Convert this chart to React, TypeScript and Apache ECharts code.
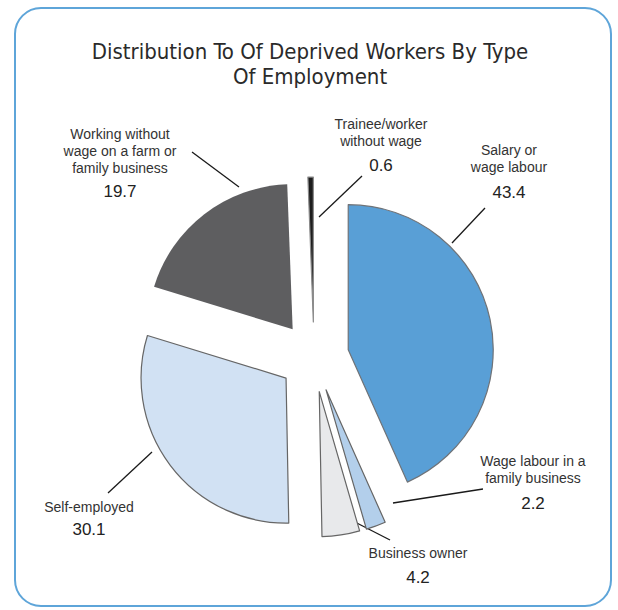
import React, { useEffect, useRef } from "react";
import * as echarts from "echarts";

// Employment categories, clockwise from 12 o'clock
const categories = [
  "Salary or\nwage labour",
  "Wage labour in a\nfamily business",
  "Business owner",
  "Self-employed",
  "Working without\nwage on a farm or\nfamily business",
  "Trainee/worker\nwithout wage",
];
const shares = [43.4, 2.2, 4.2, 30.1, 19.7, 0.6];
const sliceColors = ["#599fd6", "#b3cfeb", "#e8e9eb", "#d1e1f3", "#5e5e60", "#1d1d1d"];
const sliceBorders = ["#6f7378", "#666666", "#666666", "#666666", "#5e5e60", "#8a8a8a"];

// Label block placement: centre x, top of the name lines, centre of the value line
const labelSpots: [number, number, number][] = [
  [509, 141, 192],
  [533, 452, 503],
  [418, 544, 577],
  [89, 498, 529],
  [120, 125, 191],
  [381, 115, 165],
];
// Leader line end points for each label
const leaderLines: [number, number, number, number][] = [
  [485, 208, 452, 243],
  [483, 489, 393, 503],
  [390, 540, 349, 519],
  [108, 493, 152, 452],
  [192, 152, 239, 187],
  [362, 176, 319, 217],
];

const labelFont = "'Liberation Sans', Arial, sans-serif";

export default function App() {
  const ref = useRef<HTMLDivElement>(null);

  useEffect(() => {
    if (!ref.current) return;
    const chart = echarts.init(ref.current, null, { renderer: "svg" });

    const labelGraphics: any[] = [];
    categories.forEach((name, i) => {
      const [cx, nameTop, valueMid] = labelSpots[i];
      const [x1, y1, x2, y2] = leaderLines[i];
      labelGraphics.push(
        {
          type: "text",
          silent: true,
          style: {
            text: name,
            x: cx,
            y: nameTop,
            align: "center",
            verticalAlign: "top",
            lineHeight: 17,
            font: `14px ${labelFont}`,
            fill: "#333333",
          },
        },
        {
          type: "text",
          silent: true,
          style: {
            text: String(shares[i]),
            x: cx,
            y: valueMid,
            align: "center",
            verticalAlign: "middle",
            font: `17px ${labelFont}`,
            fill: "#222222",
          },
        },
        {
          type: "line",
          silent: true,
          shape: { x1, y1, x2, y2 },
          style: { stroke: "#1a1a1a", lineWidth: 1.3 },
        }
      );
    });

    chart.setOption({
      animation: false,
      backgroundColor: "#ffffff",
      title: {
        text: "Distribution To Of Deprived Workers By Type\nOf Employment",
        left: 305,
        textAlign: "center",
        top: 34,
        textStyle: {
          fontFamily: "'DejaVu Sans Condensed', 'Liberation Sans Narrow', sans-serif",
          fontSize: 22,
          fontWeight: "normal",
          color: "#2a2a2a",
          lineHeight: 25,
        },
      },
      graphic: [
        {
          type: "rect",
          silent: true,
          shape: { x: 15, y: 8, width: 596, height: 598, r: 26 },
          style: { fill: "none", stroke: "#5ea5d9", lineWidth: 2 },
        },
        ...labelGraphics,
      ],
      series: [
        {
          type: "pie",
          center: [314, 357],
          radius: [0, 145],
          startAngle: 90,
          clockwise: true,
          selectedMode: "multiple",
          selectedOffset: 35,
          emphasis: { disabled: true },
          label: { show: false },
          labelLine: { show: false },
          data: categories.map((name, i) => ({
            name,
            value: shares[i],
            selected: true,
            itemStyle: {
              color: sliceColors[i],
              borderColor: sliceBorders[i],
              borderWidth: i === 4 ? 0 : 1.2,
            },
          })),
        },
      ],
    });
    return () => chart.dispose();
  }, []);

  return (
    <div
      ref={ref}
      style={{ position: "fixed", left: 0, top: 0, width: 618, height: 610 }}
    />
  );
}
